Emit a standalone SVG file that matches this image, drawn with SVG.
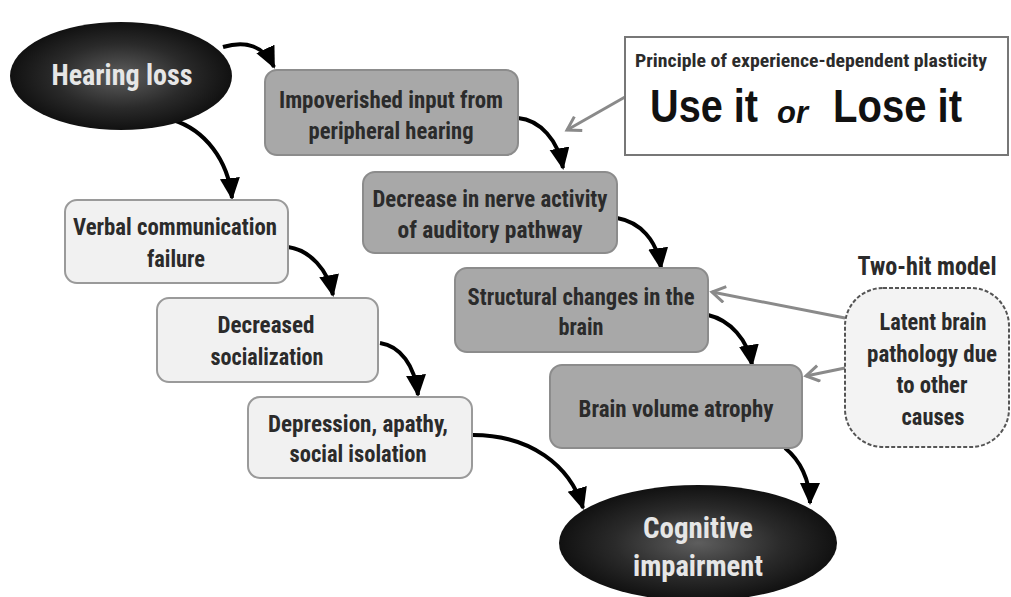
<svg xmlns="http://www.w3.org/2000/svg" width="1011" height="597" viewBox="0 0 1011 597">
<style>
.t{font-family:"Liberation Sans Narrow","Roboto Condensed",Roboto,"Liberation Sans",sans-serif;font-weight:bold;fill:#2b2b2b;text-anchor:middle;}
.w{fill:#e6e6e6;}
.dk{fill:#a8a8a8;stroke:#8c8c8c;stroke-width:2;}
.lt{fill:#f1f1f1;stroke:#9a9a9a;stroke-width:2;}
.blk{fill:none;stroke:#000;stroke-width:4;marker-end:url(#ah);}
.gry{fill:none;stroke:#8a8a8a;stroke-width:3;marker-end:url(#gh);}
.big{font-family:"Liberation Sans",Arial,sans-serif;font-weight:bold;fill:#111;}
</style>
<defs>
<radialGradient id="eg" cx="50%" cy="50%" r="50%">
<stop offset="0" stop-color="#5e5e5e"/>
<stop offset="0.6" stop-color="#2a2a2a"/>
<stop offset="1" stop-color="#111"/>
</radialGradient>
<marker id="ah" markerUnits="userSpaceOnUse" markerWidth="24" markerHeight="22" refX="20" refY="10" orient="auto">
<path d="M0,0 L22,10 L0,20 Z" fill="#000"/>
</marker>
<marker id="gh" markerUnits="userSpaceOnUse" markerWidth="18" markerHeight="20" refX="15" refY="9" orient="auto">
<path d="M2,1 L15,9 L2,17" fill="none" stroke="#8a8a8a" stroke-width="3"/>
</marker>
</defs>

<g id="connectors">
<path class="blk" d="M223,47 C246,40 264,46 274,67"/>
<path class="blk" d="M173,120 C205,130 228,160 232,198"/>
<path class="blk" d="M518,118 C540,120 558,140 563,168"/>
<path class="blk" d="M617,218 C640,222 657,240 661,268"/>
<path class="blk" d="M708,315 C730,320 748,340 752,365"/>
<path class="blk" d="M288,247 C310,250 328,270 333,295"/>
<path class="blk" d="M380,343 C400,346 415,365 418,395"/>
<path class="blk" d="M473,435 C530,435 570,465 583,508"/>
<path class="blk" d="M785,448 C800,460 810,480 810,503"/>
<path class="gry" d="M625,97 L567,130"/>
<path class="gry" d="M845,318 L712,292"/>
<path class="gry" d="M845,368 L806,376"/>
</g>

<g id="hearing-loss">
<ellipse cx="121" cy="76" rx="111" ry="54" fill="url(#eg)"/>
<text class="t w" x="122" y="85" font-size="30" textLength="141" lengthAdjust="spacingAndGlyphs">Hearing loss</text>
</g>

<g id="impoverished">
<rect class="dk" x="265" y="70" width="253" height="85" rx="12"/>
<text class="t" x="391" y="108" font-size="23" textLength="224" lengthAdjust="spacingAndGlyphs">Impoverished input from</text>
<text class="t" x="391" y="139" font-size="23" textLength="165" lengthAdjust="spacingAndGlyphs">peripheral hearing</text>
</g>

<g id="principle">
<rect x="625" y="37" width="383" height="118" fill="#fff" stroke="#777" stroke-width="2"/>
<text class="t" x="811" y="67" font-size="18" textLength="352" lengthAdjust="spacingAndGlyphs">Principle of experience-dependent plasticity</text>
<text class="big" x="650" y="122" font-size="47" textLength="108" lengthAdjust="spacingAndGlyphs">Use it</text>
<text class="big" x="777" y="123" font-size="31" font-style="italic" textLength="31" lengthAdjust="spacingAndGlyphs">or</text>
<text class="big" x="833" y="122" font-size="47" textLength="129" lengthAdjust="spacingAndGlyphs">Lose it</text>
</g>

<g id="decrease-nerve">
<rect class="dk" x="363" y="172" width="254" height="81" rx="12"/>
<text class="t" x="490" y="207" font-size="23" textLength="235" lengthAdjust="spacingAndGlyphs">Decrease in nerve activity</text>
<text class="t" x="490" y="238" font-size="23" textLength="185" lengthAdjust="spacingAndGlyphs">of auditory  pathway</text>
</g>

<g id="structural">
<rect class="dk" x="455" y="268" width="253" height="84" rx="12"/>
<text class="t" x="581" y="305" font-size="23" textLength="227" lengthAdjust="spacingAndGlyphs">Structural changes in the</text>
<text class="t" x="581" y="335" font-size="23" textLength="45" lengthAdjust="spacingAndGlyphs">brain</text>
</g>

<g id="brain-volume">
<rect class="dk" x="550" y="365" width="252" height="83" rx="12"/>
<text class="t" x="676" y="417" font-size="23" textLength="195" lengthAdjust="spacingAndGlyphs">Brain volume atrophy</text>
</g>

<g id="two-hit">
<text class="t" x="927" y="275" font-size="25" fill="#1a1a1a" textLength="139" lengthAdjust="spacingAndGlyphs">Two-hit model</text>
<rect x="845" y="288" width="164" height="159" rx="38" fill="#f3f3f3" stroke="#555" stroke-width="2" stroke-dasharray="4,2"/>
<text class="t" x="933" y="330" font-size="23" textLength="107" lengthAdjust="spacingAndGlyphs">Latent brain</text>
<text class="t" x="932" y="362" font-size="23" textLength="130" lengthAdjust="spacingAndGlyphs">pathology due</text>
<text class="t" x="932" y="393" font-size="23" textLength="71" lengthAdjust="spacingAndGlyphs">to other</text>
<text class="t" x="933" y="425" font-size="23" textLength="63" lengthAdjust="spacingAndGlyphs">causes</text>
</g>

<g id="verbal">
<rect class="lt" x="65" y="200" width="223" height="83" rx="12"/>
<text class="t" x="175" y="235" font-size="23" textLength="204" lengthAdjust="spacingAndGlyphs">Verbal communication</text>
<text class="t" x="176" y="267" font-size="23" textLength="58" lengthAdjust="spacingAndGlyphs">failure</text>
</g>

<g id="decreased-social">
<rect class="lt" x="157" y="298" width="221" height="84" rx="12"/>
<text class="t" x="266" y="333" font-size="23" textLength="97" lengthAdjust="spacingAndGlyphs">Decreased</text>
<text class="t" x="267" y="365" font-size="23" textLength="113" lengthAdjust="spacingAndGlyphs">socialization</text>
</g>

<g id="depression">
<rect class="lt" x="248" y="397" width="224" height="81" rx="12"/>
<text class="t" x="358" y="432" font-size="23" textLength="180" lengthAdjust="spacingAndGlyphs">Depression, apathy,</text>
<text class="t" x="358" y="462" font-size="23" textLength="137" lengthAdjust="spacingAndGlyphs">social isolation</text>
</g>

<g id="cognitive">
<ellipse cx="698" cy="543" rx="139" ry="58" fill="url(#eg)"/>
<text class="t w" x="698" y="538" font-size="30" textLength="110" lengthAdjust="spacingAndGlyphs">Cognitive</text>
<text class="t w" x="698" y="576" font-size="30" textLength="130" lengthAdjust="spacingAndGlyphs">impairment</text>
</g>
</svg>
